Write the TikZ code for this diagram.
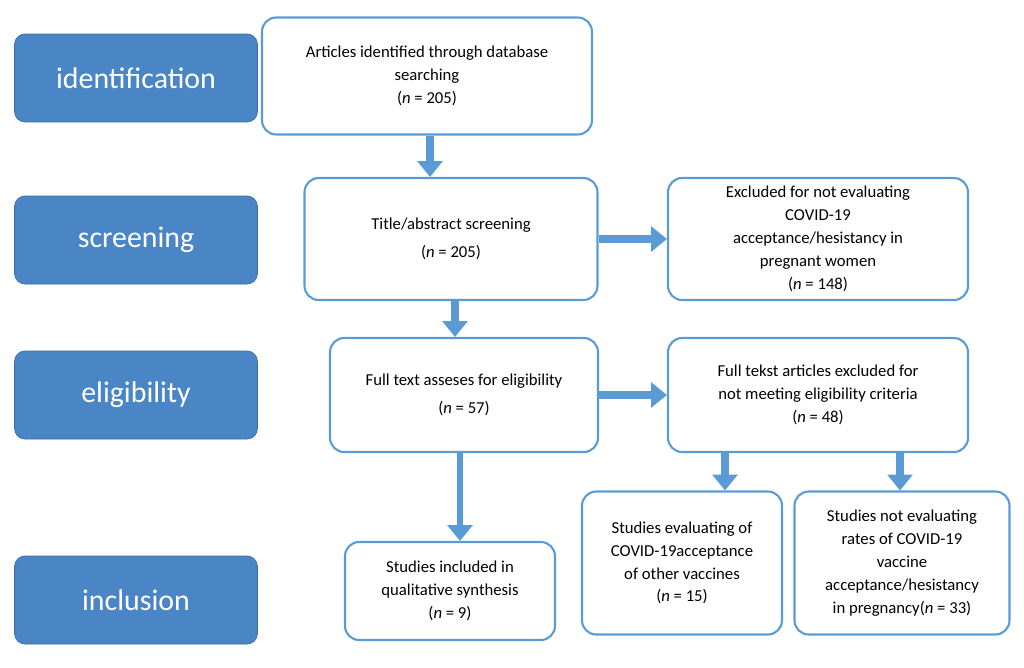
\documentclass[tikz,border=0pt]{standalone}
\usepackage{fontspec}
\setmainfont{Carlito}
\usetikzlibrary{arrows.meta}
\definecolor{stageblue}{RGB}{74,134,198}
\definecolor{edgeblue}{RGB}{91,155,213}
\tikzset{
  stage/.style={draw=stageblue!80!black, fill=stageblue, rounded corners=6pt, text=white, font=\fontsize{17}{20}\selectfont, minimum width=4.86cm, minimum height=1.76cm},
  box/.style={draw=edgeblue, line width=1.2pt, fill=white, rounded corners=8pt, align=center, font=\fontsize{9.5}{13}\selectfont},
  flow/.style={draw=edgeblue, line width=5pt, -{Triangle[length=9pt,width=14pt]}}
}
\begin{document}
\begin{tikzpicture}[x=0.02cm,y=-0.02cm]
\useasboundingbox (0,0) rectangle (1024,667);

\node[stage] (ident) at (136,78) {identification};
\node[stage] (screen) at (136,240) {screening};
\node[stage] (elig) at (136,395) {eligibility};
\node[stage] (incl) at (136,600) {inclusion};

\node[box, minimum width=6.6cm, minimum height=2.34cm] (articles) at (427,76)
  {Articles identified through database\\searching\\(\textit{n} = 205)};
\node[box, minimum width=5.86cm, minimum height=2.44cm] (title) at (451,239)
  {Title/abstract screening\\[3pt](\textit{n} = 205)};
\node[box, minimum width=6.0cm, minimum height=2.44cm] (excl) at (818,239)
  {Excluded for not evaluating\\COVID-19\\acceptance/hesistancy in\\pregnant women\\(\textit{n} = 148)};
\node[box, minimum width=5.36cm, minimum height=2.28cm] (full) at (464,395)
  {Full text asseses for eligibility\\[3pt](\textit{n} = 57)};
\node[box, minimum width=6.0cm, minimum height=2.28cm] (fullexcl) at (818,395)
  {Full tekst articles excluded for\\not meeting eligibility criteria\\(\textit{n} = 48)};
\node[box, minimum width=4.2cm, minimum height=1.96cm] (qual) at (450,591)
  {Studies included in\\qualitative synthesis\\(\textit{n} = 9)};
\node[box, minimum width=4.0cm, minimum height=2.86cm] (other) at (682,563)
  {Studies evaluating of\\COVID-19acceptance\\of other vaccines\\(\textit{n} = 15)};
\node[box, minimum width=4.3cm, minimum height=2.86cm] (rates) at (902,563)
  {Studies not evaluating\\rates of COVID-19\\vaccine\\acceptance/hesistancy\\in pregnancy(\textit{n} = 33)};

\draw[flow] (articles.south -| 430,0) -- (title.north -| 430,0);
\draw[flow] (title.east) -- (excl.west);
\draw[flow] (title.south -| 455,0) -- (full.north -| 455,0);
\draw[flow] (full.east) -- (fullexcl.west);
\draw[flow, line width=3pt] (full.south -| 460,0) -- (qual.north -| 460,0);
\draw[flow] (fullexcl.south -| 725,0) -- (other.north -| 725,0);
\draw[flow] (fullexcl.south -| 900,0) -- (rates.north -| 900,0);
\end{tikzpicture}
\end{document}
